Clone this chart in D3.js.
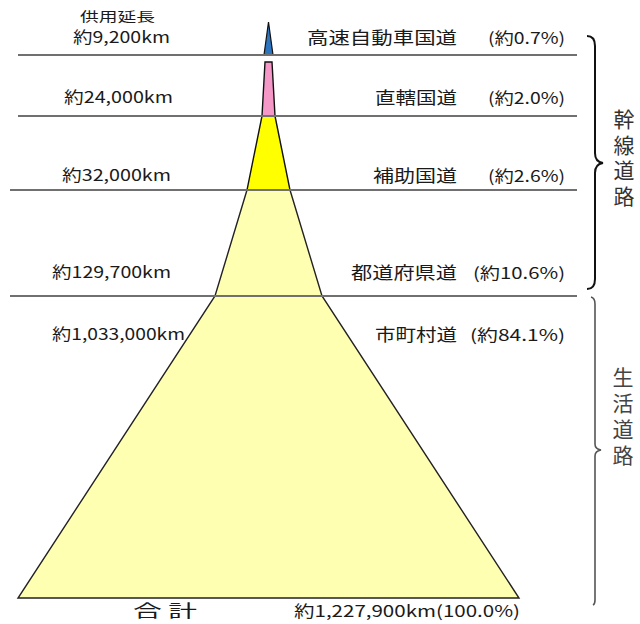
<!DOCTYPE html>
<html><head><meta charset="utf-8">
<script src="https://cdn.jsdelivr.net/npm/d3@7"></script>
<style>html,body{margin:0;padding:0;background:#fff;}svg{display:block;}</style>
</head><body>
<script>
// ---- data ----
const categories = ["高速自動車国道","直轄国道","補助国道","都道府県道","市町村道"];
const lengthsKm = [9200, 24000, 32000, 129700, 1033000];
const sharesPct = [0.7, 2.0, 2.6, 10.6, 84.1];
const totalKm = 1227900;
const totalPct = 100.0;
const groupLabels = ["幹線道路","生活道路"];
const headerLabel = "供用延長";
const totalLabel = "合 計";

// ---- layout ----
const W = 640, H = 624;
const svg = d3.select("body").append("svg").attr("width", W).attr("height", H);
const FONT = "'Noto Sans CJK JP','Noto Sans',sans-serif";

// boundary index -> y (polylinear scale)
const y = d3.scaleLinear().domain([0,1,2,3,4]).range([55,116,190,296,598]);
// boundary index -> half width of the pyramid
const hw = d3.scaleLinear().domain([0,1,2,3,4]).range([4.5,6.5,21.5,53.5,250.5]);
const cx = 268.5, apexY = 22, pinkTop = 62;
const fills = ["#2e75c0","#f598c8","#ffff00","#ffffb2","#ffffb2"];

const line = d3.line();
// blue triangle
svg.append("path").attr("d", line([[cx,apexY],[cx+hw(0),y(0)],[cx-hw(0),y(0)]]) + "Z")
  .attr("fill", fills[0]).attr("stroke","#111").attr("stroke-width",1.2);
// pink trapezoid
svg.append("path").attr("d", line([[cx-3.5,pinkTop],[cx+3.5,pinkTop],[cx+hw(1),y(1)],[cx-hw(1),y(1)]]) + "Z")
  .attr("fill", fills[1]).attr("stroke","#111").attr("stroke-width",1.4);
// yellow trapezoid
svg.append("path").attr("d", line([[cx-hw(1),y(1)],[cx+hw(1),y(1)],[cx+hw(2),y(2)],[cx-hw(2),y(2)]]) + "Z")
  .attr("fill", fills[2]).attr("stroke","#111").attr("stroke-width",1.4);
// light yellow base
svg.append("path").attr("d", line([[cx-hw(2),y(2)],[cx+hw(2),y(2)],[cx+hw(3),y(3)],[cx+hw(4),y(4)],[cx-hw(4),y(4)],[cx-hw(3),y(3)]]) + "Z")
  .attr("fill", fills[3]).attr("stroke","#222").attr("stroke-width",1.4);

// horizontal separator lines
const sepStart = [18,18,10,10];
[0,1,2,3].forEach(i => {
  svg.append("line").attr("x1", sepStart[i]).attr("x2", 577)
    .attr("y1", y(i)).attr("y2", y(i))
    .attr("stroke","#707070").attr("stroke-width",2);
});

// labels
const fmt = d3.format(",");
const baselines = [43, 103, 181, 278, 340];
const leftX = [73, 64, 62, 52, 52];
const leftW = [97, 109, 109, 119, 133];
const catX = [307, 375, 373, 351, 375];
const pctX = [488, 488, 488, 473, 470];

function txt(s, x, yy, len, size, color){
  const t = svg.append("text").attr("x", x).attr("y", yy)
    .attr("font-family", FONT).attr("font-size", size || 16)
    .attr("fill", color || "#1a1a1a").text(s);
  if (len) t.attr("textLength", len).attr("lengthAdjust","spacingAndGlyphs");
  return t;
}

categories.forEach((c,i) => {
  txt("約" + fmt(lengthsKm[i]) + "km", leftX[i], baselines[i], leftW[i], 16);
  txt(c, catX[i], baselines[i] + 1, 457 - catX[i], 17);
  txt("(約" + sharesPct[i].toFixed(1) + "%)", pctX[i], baselines[i] + 1, 565 - pctX[i], 16);
});

txt(headerLabel, 80, 21, 75, 13);
txt(totalLabel, 133, 617, 64, 17);
txt("約" + fmt(totalKm) + "km(" + totalPct.toFixed(1) + "%)", 294, 617, 226, 16);

// brackets
svg.append("path")
  .attr("d","M587,36 Q595,36 595,46 L595,153 Q595,162 603,163 Q595,164 595,173 L595,279 Q595,289 587,289")
  .attr("fill","none").attr("stroke","#111").attr("stroke-width",2);
svg.append("path")
  .attr("d","M591,297 Q595,298 595,304 L595,444 Q595,449 601,450 Q595,451 595,456 L595,600 Q595,604 593,605")
  .attr("fill","none").attr("stroke","#555").attr("stroke-width",1.6);

// vertical group labels
function vtext(s, x, yTop, size, spacing, color){
  svg.append("text").attr("font-family", FONT).attr("font-size", size)
    .attr("fill", color).attr("writing-mode","vertical-rl")
    .style("letter-spacing", spacing + "px")
    .attr("x", x).attr("y", yTop).text(s);
}
vtext(groupLabels[0], 624, 109, 21, 4.5, "#333");
vtext(groupLabels[1], 623, 367, 21, 4.7, "#444");
</script>
</body></html>
